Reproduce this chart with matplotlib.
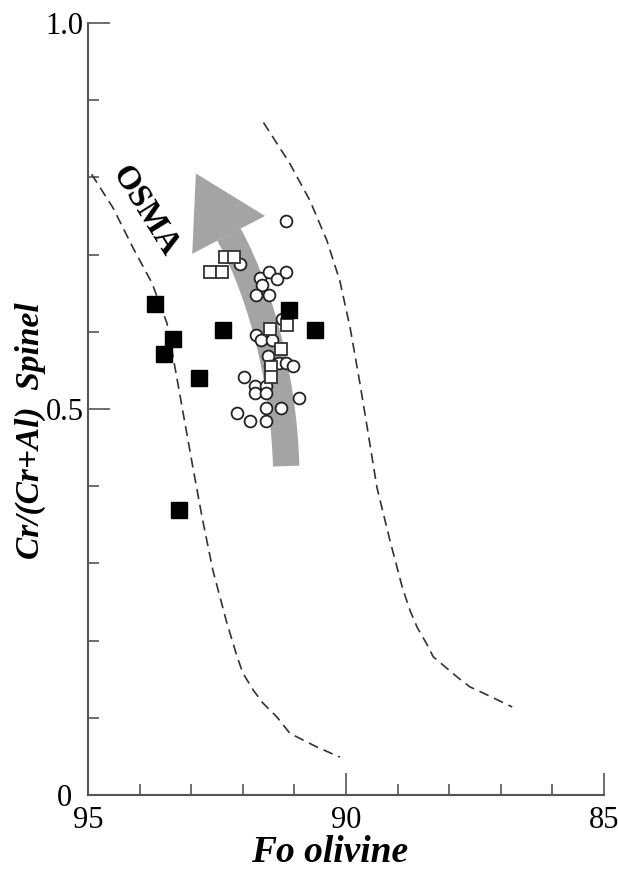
import numpy as np
import matplotlib.pyplot as plt
from matplotlib.path import Path
from matplotlib.patches import PathPatch, Polygon

plt.rcParams['font.family'] = ['Liberation Serif', 'DejaVu Serif']

# Fo olivine / Cr# spinel -- solid squares
fo_cheio = [93.70, 93.36, 93.52, 92.39, 92.85, 93.24, 91.10, 90.60]
cr_cheio = [0.636, 0.591, 0.571, 0.602, 0.540, 0.369, 0.628, 0.602]

# open squares
fo_vazio = [92.34, 92.17, 92.64, 92.40, 91.47, 91.14, 91.26, 91.45, 91.45]
cr_vazio = [0.697, 0.697, 0.677, 0.677, 0.604, 0.609, 0.578, 0.554, 0.541]

# open circles
fo_circ = [91.16, 92.05, 91.67, 91.49, 91.34, 91.16, 91.63, 91.74, 91.49, 91.24,
           91.74, 91.65, 91.43, 91.51, 91.47, 91.30, 91.16, 91.03, 91.98, 91.76,
           91.55, 91.76, 91.55, 90.91, 92.11, 91.55, 91.26, 91.86, 91.55]
cr_circ = [0.743, 0.688, 0.670, 0.678, 0.668, 0.678, 0.660, 0.648, 0.648, 0.616,
           0.596, 0.589, 0.589, 0.568, 0.555, 0.559, 0.559, 0.556, 0.542, 0.530,
           0.530, 0.521, 0.521, 0.514, 0.495, 0.501, 0.501, 0.485, 0.485]

# limites do OSMA (linhas tracejadas)
fo_osma_esq = [94.93, 94.52, 94.13, 93.76, 93.47, 93.28, 93.12, 92.98, 92.79, 92.58,
               92.31, 92.11, 92.00, 91.80, 91.61, 91.34, 91.09, 90.83, 90.56, 90.12]
cr_osma_esq = [0.804, 0.761, 0.709, 0.663, 0.611, 0.541, 0.481, 0.429, 0.360, 0.291,
               0.223, 0.179, 0.158, 0.136, 0.119, 0.101, 0.080, 0.071, 0.062, 0.049]
fo_osma_dir = [91.60, 91.09, 90.70, 90.37, 90.12, 89.92, 89.73, 89.57, 89.40, 89.15,
               88.91, 88.76, 88.62, 88.44, 88.31, 88.08, 87.85, 87.60, 87.34, 86.78]
cr_osma_dir = [0.871, 0.818, 0.770, 0.718, 0.666, 0.605, 0.533, 0.468, 0.398, 0.330,
               0.269, 0.239, 0.217, 0.196, 0.179, 0.166, 0.153, 0.140, 0.132, 0.114]

# seta cinza (trend)
seta_corpo = [(91.16, 0.426), (91.20, 0.524), (91.57, 0.640), (92.27, 0.726)]
seta_ponta = [(92.91, 0.805), (91.57, 0.750), (92.98, 0.701)]


fig = plt.figure(figsize=(6.18, 8.71), dpi=100)
ax = fig.add_axes([0.1424, 0.0873, 0.835, 0.8864])

cinza = '#a4a4a4'
corpo = PathPatch(Path(seta_corpo, [Path.MOVETO, Path.CURVE4, Path.CURVE4, Path.CURVE4]),
                  fill=False, edgecolor=cinza, linewidth=19, capstyle='butt', zorder=1)
ax.add_patch(corpo)
ax.add_patch(Polygon(seta_ponta, closed=True, facecolor=cinza, edgecolor='none', zorder=1))

for fo, cr in [(fo_osma_esq, cr_osma_esq), (fo_osma_dir, cr_osma_dir)]:
    ax.plot(fo, cr, color='#333333', linewidth=1.2, dashes=(6, 3.6), zorder=2)

ax.plot(fo_circ, cr_circ, 'o', ms=8.5, mfc='white', mec='#222222', mew=1.3, zorder=3)
ax.plot(fo_vazio, cr_vazio, 's', ms=9, mfc='white', mec='#333333', mew=1.3, zorder=4)
ax.plot(fo_cheio, cr_cheio, 's', ms=11, mfc='black', mec='black', zorder=5)

ax.text(93.90, 0.757, 'OSMA', rotation=-58, fontsize=24, fontweight='bold',
        ha='center', va='center', rotation_mode='anchor')

ax.set_xlim(95, 85)
ax.set_ylim(0, 1.0)
ax.set_xticks([95, 90, 85])
ax.set_xticks(np.arange(85, 96, 1), minor=True)
ax.set_yticks([0, 0.5, 1.0])
ax.set_yticklabels(['0', '0.5', '1.0'])
ax.set_yticks(np.arange(0, 1.01, 0.1), minor=True)

for s in ['top', 'right']:
    ax.spines[s].set_visible(False)
for s in ['left', 'bottom']:
    ax.spines[s].set_color('#555555')
    ax.spines[s].set_linewidth(1.5)

ax.tick_params(which='both', direction='in', color='#555555', width=1.2, labelsize=22)
ax.tick_params(which='major', length=16)
ax.tick_params(which='minor', length=8)
ax.tick_params(axis='x', pad=8)
ax.tick_params(axis='y', pad=17)
for lbl in ax.get_yticklabels():
    lbl.set_horizontalalignment('center')

ax.set_xlabel('Fo olivine', fontsize=27, fontweight='bold', fontstyle='italic',
              va='baseline')
ax.xaxis.set_label_coords(0.469, -0.087)
ax.set_ylabel('Cr/(Cr+Al)  Spinel', fontsize=24, fontweight='bold', fontstyle='italic',
              va='center')
ax.yaxis.set_label_coords(-0.111, 0.472)

plt.savefig('out.png', dpi=100)
